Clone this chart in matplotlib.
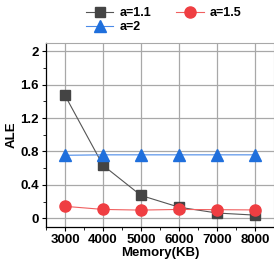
import matplotlib
matplotlib.use("Agg")
from matplotlib import pyplot as plt
from matplotlib.ticker import MultipleLocator

memory = [3000, 4000, 5000, 6000, 7000, 8000]
ale_11 = [1.47, 0.635, 0.275, 0.135, 0.065, 0.04]
ale_15 = [0.145, 0.108, 0.10, 0.108, 0.105, 0.102]
ale_2 = [0.755, 0.76, 0.76, 0.76, 0.76, 0.76]

plt.rcParams['font.family'] = ['Liberation Sans', 'DejaVu Sans']
plt.rcParams['font.weight'] = 'bold'

fig = plt.figure(figsize=(2.74, 2.65), dpi=100)
ax = fig.add_axes([46 / 274, 0.144, 1 - 46 / 274, 0.695])

l1, = ax.plot(memory, ale_11, color='#555555', lw=0.8, marker='s', ms=7,
              mfc='#444444', mec='#444444', label='a=1.1', zorder=3)
l2, = ax.plot(memory, ale_15, color='#f06060', lw=0.8, marker='o', ms=8,
              mfc='#ef3e42', mec='#ef3e42', label='a=1.5', zorder=4)
l3, = ax.plot(memory, ale_2, color='#4a8ae8', lw=0.8, marker='^', ms=8.5,
              mfc='#1f6fdc', mec='#1f6fdc', label='a=2', zorder=3)

ax.set_xlim(2500, 8500)
ax.set_ylim(-0.1, 2.1)
ax.set_xticks(memory)
ax.set_yticks([0, 0.4, 0.8, 1.2, 1.6, 2.0])
ax.set_yticklabels(['0', '0.4', '0.8', '1.2', '1.6', '2'])
ax.xaxis.set_minor_locator(MultipleLocator(500))
ax.yaxis.set_minor_locator(MultipleLocator(0.2))
ax.tick_params(axis='both', which='major', labelsize=9.5, length=3, width=0.8, direction='out')
ax.tick_params(axis='both', which='minor', length=2, width=0.6, direction='out')
ax.tick_params(axis='x', pad=2)
ax.tick_params(axis='y', pad=2)
ax.grid(True, which='major', color='#a8a8a8', lw=0.9)
ax.set_axisbelow(True)

for s in ['top', 'right']:
    ax.spines[s].set_color('#a8a8a8')
for s in ['left', 'bottom']:
    ax.spines[s].set_color('black')
    ax.spines[s].set_linewidth(0.9)

ax.set_xlabel('Memory(KB)', fontsize=9.5, fontweight='bold', labelpad=1)
ax.set_ylabel('ALE', fontsize=9.5, fontweight='bold', labelpad=2)

# order so that rows read a=1.1, a=1.5 / a=2
fig.legend([l1, l3, l2], ['a=1.1', 'a=2', 'a=1.5'], loc='upper left',
           bbox_to_anchor=(0.272, 1.015), ncol=2, frameon=False,
           fontsize=9, handlelength=2.2, columnspacing=2.0, labelspacing=0.15,
           handletextpad=0.5)

plt.savefig('out.png', dpi=100)
plt.close()
